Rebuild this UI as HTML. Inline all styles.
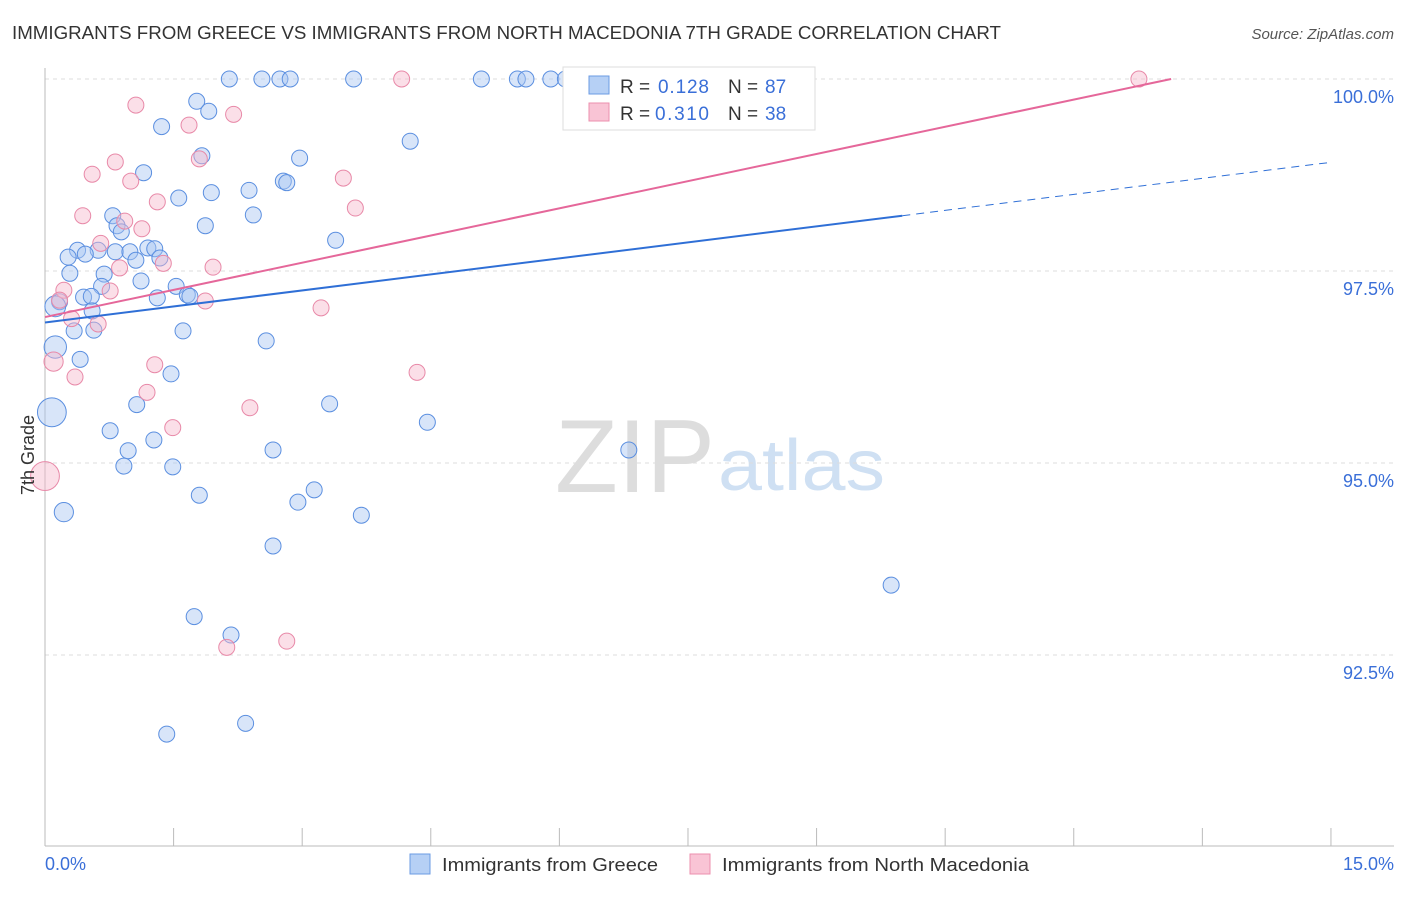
<!DOCTYPE html>
<html><head><meta charset="utf-8"><style>
body{margin:0;background:#fff;font-family:"Liberation Sans",sans-serif;}
svg text{font-family:"Liberation Sans",sans-serif;}
</style></head><body>
<svg width="1406" height="892" viewBox="0 0 1406 892">
<text x="12" y="39" font-size="18" fill="#333" textLength="989" lengthAdjust="spacingAndGlyphs">IMMIGRANTS FROM GREECE VS IMMIGRANTS FROM NORTH MACEDONIA 7TH GRADE CORRELATION CHART</text>
<text x="1394" y="39" font-size="15" fill="#555" font-style="italic" text-anchor="end">Source: ZipAtlas.com</text>
<text x="555" y="492" font-size="104" fill="#ddd" textLength="160" lengthAdjust="spacingAndGlyphs" font-family="Liberation Serif">ZIP</text>
<text x="718" y="490" font-size="72" fill="#cfe0f3" textLength="167" lengthAdjust="spacingAndGlyphs">atlas</text>
<g id="grid"></g><g id="axes"></g><g id="pts"></g><g id="lines"></g>
<text x="34" y="455" font-size="18" fill="#333" transform="rotate(-90 34 455)" text-anchor="middle">7th Grade</text>
<text x="45" y="870" font-size="18" fill="#3a6fd8">0.0%</text>
<text x="1394" y="870" font-size="18" fill="#3a6fd8" text-anchor="end">15.0%</text>
<g>
<rect x="563" y="67" width="252" height="63" fill="#fff" stroke="#ddd"/>
<rect x="589" y="76" width="20" height="18" fill="#b6d0f5" stroke="#6b9be3"/>
<rect x="589" y="103" width="20" height="18" fill="#f9c4d5" stroke="#ec8fae"/>
<text x="620" y="93" font-size="19" fill="#333">R =</text>
<text x="658" y="93" font-size="19" fill="#3a6fd8" textLength="51">0.128</text>
<text x="728" y="93" font-size="19" fill="#333">N =</text>
<text x="765" y="93" font-size="19" fill="#3a6fd8">87</text>
<text x="620" y="120" font-size="19" fill="#333">R =</text>
<text x="655" y="120" font-size="19" fill="#3a6fd8" textLength="54">0.310</text>
<text x="728" y="120" font-size="19" fill="#333">N =</text>
<text x="765" y="120" font-size="19" fill="#3a6fd8">38</text>
</g>
<g>
<rect x="410" y="854" width="20" height="20" fill="#b6d0f5" stroke="#6b9be3"/>
<text x="442" y="871" font-size="18" fill="#333" textLength="216" lengthAdjust="spacingAndGlyphs">Immigrants from Greece</text>
<rect x="690" y="854" width="20" height="20" fill="#f9c4d5" stroke="#ec8fae"/>
<text x="722" y="871" font-size="18" fill="#333" textLength="307" lengthAdjust="spacingAndGlyphs">Immigrants from North Macedonia</text>
</g>
</svg>
<script>
const yTicks=[100,97.5,95,92.5];
const yTickLabels=["100.0%","97.5%","95.0%","92.5%"];
const blueX=[2.15,2.53,2.74,2.86,3.60,5.09,5.51,5.61,5.90,6.07,1.77,1.91,1.36,4.26,1.83,2.97,1.15,1.94,2.38,2.78,2.82,1.56,0.79,2.43,1.87,0.84,0.89,3.39,0.38,0.62,0.82,1.20,1.28,0.99,1.34,0.27,0.47,1.06,0.29,0.69,1.12,0.66,1.53,0.45,0.54,1.31,1.66,1.69,0.17,0.12,0.55,0.34,0.57,1.61,2.58,0.12,0.41,1.47,1.07,3.32,0.08,0.76,1.27,4.46,2.66,6.81,0.97,0.92,1.49,3.14,2.95,1.80,0.22,3.69,2.66,9.87,1.74,2.17,2.34,1.42];
const blueY=[100,100,100,100,100,100,100,100,100,100,99.71,99.58,99.38,99.19,99.00,98.97,98.78,98.52,98.55,98.67,98.65,98.45,98.22,98.23,98.09,98.09,98.01,97.90,97.77,97.77,97.75,97.80,97.79,97.75,97.67,97.68,97.72,97.64,97.47,97.46,97.37,97.30,97.30,97.16,97.17,97.15,97.19,97.17,97.10,97.04,96.98,96.72,96.73,96.72,96.59,96.51,96.35,96.16,95.76,95.77,95.66,95.42,95.30,95.53,95.17,95.17,95.16,94.96,94.95,94.65,94.49,94.58,94.36,94.32,93.92,93.41,93.00,92.76,91.61,91.47];
const blueSize=[1,1,1,1,1,1,1,1,1,1,1,1,1,1,1,1,1,1,1,1,1,1,1,1,1,1,1,1,1,1,1,1,1,1,1,1,1,1,1,1,1,1,1,1,1,1,1,1,1,1.3,1,1,1,1,1,1.4,1,1,1,1,1.8,1,1,1,1,1,1,1,1,1,1,1,1.2,1,1,1,1,1,1,1];
const pinkX=[4.16,8.07,12.76,1.06,2.20,1.68,1.80,0.82,0.55,1.00,3.48,3.62,1.31,0.44,0.93,1.13,0.65,0.87,1.38,1.96,0.76,0.22,1.87,0.17,3.22,0.31,0.62,0.10,0.35,1.28,1.19,4.34,2.39,1.49,0,2.12,2.82];
const pinkY=[100,100,100,99.66,99.54,99.40,98.96,98.92,98.76,98.67,98.71,98.32,98.40,98.22,98.15,98.05,97.86,97.54,97.60,97.55,97.24,97.25,97.11,97.12,97.02,96.88,96.81,96.32,96.12,96.28,95.92,96.18,95.72,95.46,94.83,92.60,92.68];
const pinkSize=[1,1,1,1,1,1,1,1,1,1,1,1,1,1,1,1,1,1,1,1,1,1,1,1,1,1,1,1.2,1,1,1,1,1,1,1.8,1,1];
const blueTrend=[96.83,0.139], pinkTrend=[96.90,0.236];
const NS="http://www.w3.org/2000/svg";
const X=v=>45+v*85.73, Y=v=>79+(100-v)*76.8;
function mk(tag,attrs,parent){const e=document.createElementNS(NS,tag);for(const k in attrs)e.setAttribute(k,attrs[k]);document.getElementById(parent).appendChild(e);return e;}
yTicks.forEach((t,i)=>{
 const l=mk('line',{x1:45,x2:1394,y1:Y(t),y2:Y(t),stroke:'#ddd','stroke-dasharray':'4,4'},'grid');
 
 
 const tx=mk('text',{x:1394,y:Y(t)+24,'font-size':18,fill:'#3a6fd8','text-anchor':'end'},'grid');tx.textContent=yTickLabels[i];
 
 
});
const ax=mk('line',{x1:45,x2:45,y1:68,y2:846,stroke:'#bbb'},'axes');


const bx=mk('line',{x1:45,x2:1394,y1:846,y2:846,stroke:'#bbb'},'axes');


for(let i=0;i<=10;i++){const t=mk('line',{x1:X(i*1.5),x2:X(i*1.5),y1:828,y2:846,stroke:'#bbb'},'axes');
 
 }
function pts(xs,ys,ss,fill,stroke,name){xs.forEach((x,i)=>{
 const c=mk('circle',{cx:X(x),cy:Y(ys[i]),r:8*ss[i],fill:fill,'fill-opacity':0.45,stroke:stroke,'stroke-width':1},'pts');
 
 });}
pts(blueX,blueY,blueSize,'#a9c6f1','#5b8fe0','greece-point');
pts(pinkX,pinkY,pinkSize,'#f7b9cc','#e889a8','macedonia-point');
const bEnd=10;
const b1=mk('line',{x1:X(0),y1:Y(blueTrend[0]),x2:X(bEnd),y2:Y(blueTrend[0]+blueTrend[1]*bEnd),stroke:'#2f6fd6','stroke-width':2},'lines');


const b2=mk('line',{x1:X(bEnd),y1:Y(blueTrend[0]+blueTrend[1]*bEnd),x2:X(15),y2:Y(blueTrend[0]+blueTrend[1]*15),stroke:'#2f6fd6','stroke-width':1,'stroke-dasharray':'8,6'},'lines');


const pEnd=(100-pinkTrend[0])/pinkTrend[1];
const p1=mk('line',{x1:X(0),y1:Y(pinkTrend[0]),x2:X(pEnd),y2:Y(100),stroke:'#e5679a','stroke-width':2},'lines');


</script>
</body></html>
